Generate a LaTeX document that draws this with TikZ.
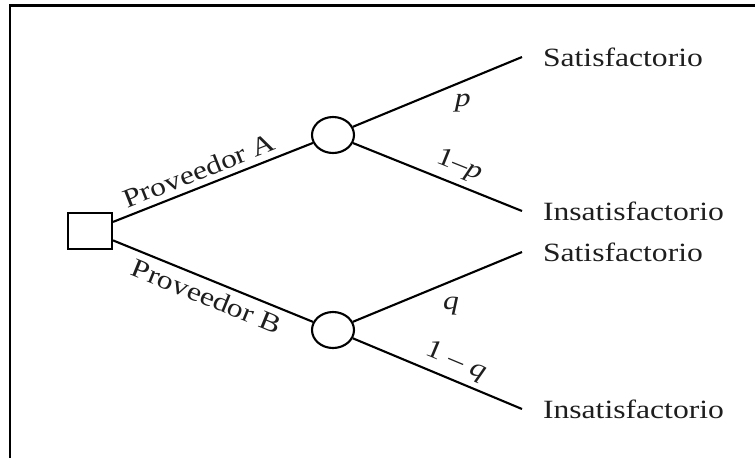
\documentclass[tikz,border=0pt]{standalone}
\usepackage{fontspec}
\setmainfont{Liberation Serif}
\newfontfamily\wideserif{Liberation Serif}[FakeStretch=1.2]
\usepackage{tikz}
\usetikzlibrary{shapes.geometric,positioning}
\definecolor{TreeInk}{HTML}{1E1E1E}
\newcommand{\widelabel}[1]{\scalebox{1.2}[1]{#1}}

\begin{document}
\begin{tikzpicture}[x=0.02cm,y=-0.02cm,line width=1.2pt,
    font=\fontsize{15}{18}\selectfont,text=TreeInk,
    decbox/.style={draw,rectangle,minimum width=.88cm,minimum height=.72cm,inner sep=0pt},
    chancenode/.style={draw,ellipse,minimum width=.84cm,minimum height=.72cm,inner sep=0pt},
    endlabel/.style={anchor=west,inner xsep=.4cm,inner ysep=0pt,font=\fontsize{15}{18}\wideserif}]
  \useasboundingbox (0,0) rectangle (755,458);
  % partial frame
  \draw[line width=1.3pt] (10,458) -- (10,5.5) -- (755,5.5);
  % decision and chance nodes
  \node[decbox] (dec) at (90,231) {};
  \node[chancenode] (chA) at (333,135) {};
  \node[chancenode] (chB) at (333,330) {};
  % outcomes
  \node[endlabel] (satA) at (522,57) {Satisfactorio};
  \node[endlabel] (insA) at (522,211) {Insatisfactorio};
  \node[endlabel] (satB) at (522,252) {Satisfactorio};
  \node[endlabel] (insB) at (522,409) {Insatisfactorio};
  % branches
  \draw (dec) -- node[sloped,above,pos=.46]{\widelabel{Proveedor A}} (chA);
  \draw (dec) -- node[sloped,below,pos=.5]{\widelabel{Proveedor B}} (chB);
  \draw (chA) -- node[pos=.65,below=3pt]{\widelabel{\textit{p}}} (satA.west);
  \draw (chA) -- node[sloped,above,pos=.59]{\widelabel{1–\textit{p}}} (insA.west);
  \draw (chB) -- node[pos=.58,below=5pt]{\widelabel{\textit{q}}} (satB.west);
  \draw (chB) -- node[sloped,above,pos=.57]{\widelabel{1 – \textit{q}}} (insB.west);
\end{tikzpicture}
\end{document}
